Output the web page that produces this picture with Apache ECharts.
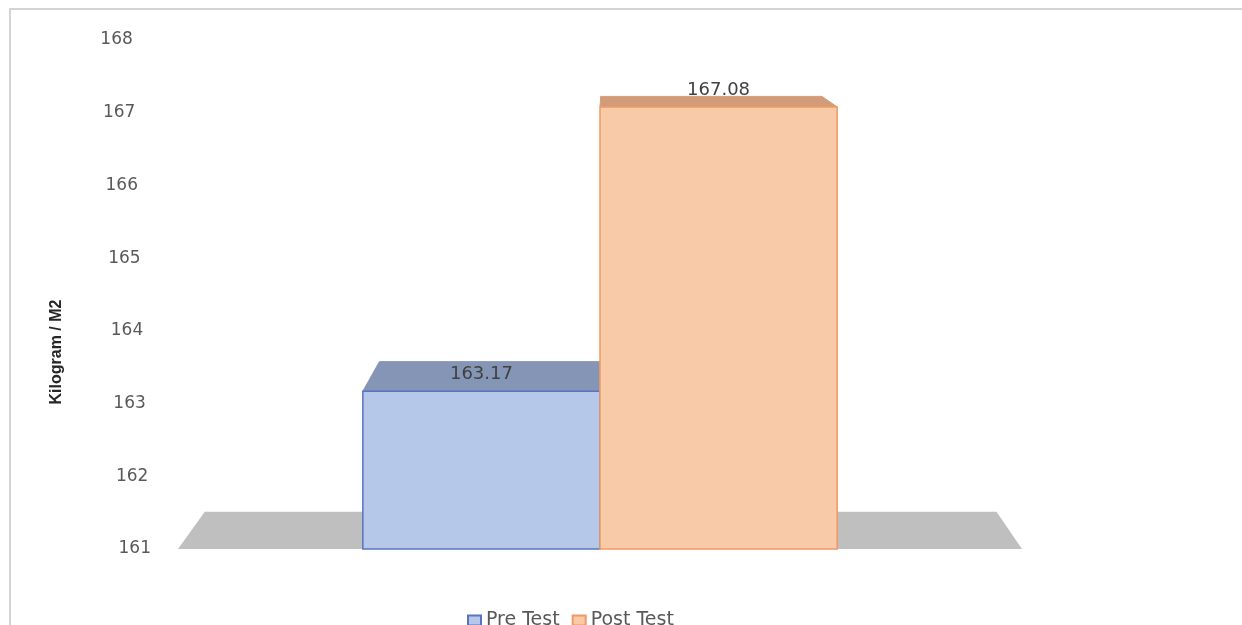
<!DOCTYPE html>
<html>
<head>
<meta charset="utf-8">
<script src="https://cdn.jsdelivr.net/npm/echarts@6/dist/echarts.min.js"></script>
<style>
html,body{margin:0;padding:0;background:#fff;}
#chart{width:1242px;height:625px;}
</style>
</head>
<body>
<div id="chart"></div>
<script>
// ---- data ----
const categories = [''];
const seriesNames = ['Pre Test', 'Post Test'];
const preTest = [163.17];
const postTest = [167.08];
const yTicks = [161, 162, 163, 164, 165, 166, 167, 168];
const yTitle = 'Kilogram / M2';

// ---- style / projection parameters ----
const Y_MIN = yTicks[0], Y_MAX = yTicks[yTicks.length - 1];
const BAR_FRAC = 0.281;      // bar width as fraction of band
const DEPTH_K = 0.067;       // depth fraction toward vanishing point
const VP_DX = 10, VP_DY = -90;
const styles = [
  { front: '#b6c8ea', border: '#5874bf', top: '#8595b6' },
  { front: '#f9caa8', border: '#ee9a62', top: '#d39c78' }
];

function vpOf(cs) { return [cs.x + cs.width / 2 + VP_DX, cs.y + VP_DY]; }
function toVP(p, vp, k) { return [p[0] + (vp[0] - p[0]) * k, p[1] + (vp[1] - p[1]) * k]; }

function makeBarRender(sIdx, nBars) {
  const st = styles[sIdx];
  return function (params, api) {
    const cat = api.value(0), v = api.value(1);
    const cs = params.coordSys;
    const vp = vpOf(cs);
    const base = api.coord([cat, Y_MIN]);
    const top = api.coord([cat, v]);
    const band = api.size([1, 0])[0];
    const barW = band * BAR_FRAC;
    const x0 = base[0] - barW * nBars / 2 + sIdx * barW;
    const x1 = x0 + barW;
    const ty = top[1], by = base[1];
    const fl = [x0, ty], fr = [x1, ty];
    const bl = toVP(fl, vp, DEPTH_K), br = toVP(fr, vp, DEPTH_K);
    return {
      type: 'group',
      children: [
        { type: 'polygon', shape: { points: [fl, fr, br, bl] },
          style: { fill: st.top, stroke: st.top, lineWidth: 1 } },
        { type: 'rect', shape: { x: x0, y: ty, width: barW, height: by - ty },
          style: { fill: st.front, stroke: st.border, lineWidth: 1.5 } },
        { type: 'text', style: { text: v.toFixed(2), x: (x0 + x1) / 2, y: ty - 17,
          align: 'center', verticalAlign: 'middle', fontSize: 18,
          fontFamily: 'DejaVu Sans', fill: '#404040' } }
      ]
    };
  };
}

function floorRender(params, api) {
  const cs = params.coordSys;
  const vp = vpOf(cs);
  const y = api.coord([0, Y_MIN])[1];
  const fl = [cs.x, y], fr = [cs.x + cs.width, y];
  const bl = toVP(fl, vp, 0.062), br = toVP(fr, vp, 0.062);
  return { type: 'polygon', shape: { points: [fl, fr, br, bl] },
    style: { fill: '#bfbfbf' } };
}

const rich = {};
yTicks.forEach((t, i) => {
  rich['p' + i] = { fontSize: 17, fontFamily: 'DejaVu Sans', color: '#595959',
    padding: [0, i * 2.6, 0, 0] };
});

const chart = echarts.init(document.getElementById('chart'));
chart.setOption({
  animation: false,
  backgroundColor: '#fff',
  grid: { left: 178, right: 220, top: 40, bottom: 76 },
  xAxis: { type: 'category', data: categories,
    axisLine: { show: false }, axisTick: { show: false }, axisLabel: { show: false },
    splitLine: { show: false } },
  yAxis: { type: 'value', min: Y_MIN, max: Y_MAX, interval: 1,
    axisLine: { show: false }, axisTick: { show: false }, splitLine: { show: false },
    axisLabel: { margin: 27, formatter: function (val) {
      const i = yTicks.indexOf(val);
      return '{p' + i + '|' + val + '}';
    }, rich: rich } },
  legend: {
    data: seriesNames, left: 462, top: 606, itemWidth: 13, itemHeight: 10, itemGap: 12,
    icon: 'rect',
    textStyle: { fontSize: 19, fontFamily: 'DejaVu Sans', color: '#595959' }
  },
  graphic: [
    { type: 'rect', shape: { x: 10, y: 9, width: 1400, height: 800 },
      style: { fill: 'none', stroke: '#d4d4d4', lineWidth: 2 }, z: 100 },
    { type: 'text', x: 57, y: 352, rotation: Math.PI / 2,
      style: { text: yTitle, align: 'center', verticalAlign: 'middle',
        fontSize: 16, fontWeight: 'bold', fontFamily: 'Liberation Sans Narrow, Liberation Sans',
        fill: '#262626' } }
  ],
  series: [
    { type: 'custom', name: '__floor', renderItem: floorRender, data: [[0, Y_MIN]],
      encode: { x: 0, y: 1 }, silent: true, z: 1 },
    { type: 'custom', name: seriesNames[0], renderItem: makeBarRender(0, 2),
      data: preTest.map((v, i) => [i, v]), encode: { x: 0, y: 1 }, z: 2,
      itemStyle: { color: styles[0].front, borderColor: styles[0].border, borderWidth: 1.5 } },
    { type: 'custom', name: seriesNames[1], renderItem: makeBarRender(1, 2),
      data: postTest.map((v, i) => [i, v]), encode: { x: 0, y: 1 }, z: 3,
      itemStyle: { color: styles[1].front, borderColor: styles[1].border, borderWidth: 1.5 } }
  ]
});
</script>
</body>
</html>
